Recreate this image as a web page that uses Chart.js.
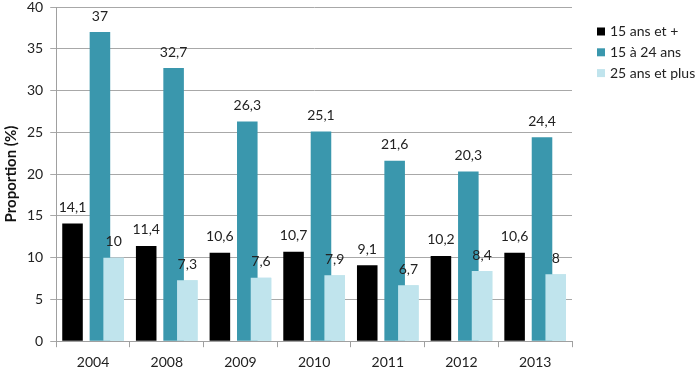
<!DOCTYPE html>
<html>
<head>
<meta charset="utf-8">
<script src="https://cdn.jsdelivr.net/npm/chart.js@4"></script>
<style>
  html, body { margin: 0; padding: 0; background: #fff; }
  #wrap { width: 700px; height: 370px; }
</style>
</head>
<body>
<div id="wrap"><canvas id="chart" width="700" height="370"></canvas></div>
<script>
const years = ['2004', '2008', '2009', '2010', '2011', '2012', '2013'];
const all15 = [14.1, 11.4, 10.6, 10.7, 9.1, 10.2, 10.6];
const young = [37, 32.7, 26.3, 25.1, 21.6, 20.3, 24.4];
const older = [10, 7.3, 7.6, 7.9, 6.7, 8.4, 8];
const yTicks = [0, 5, 10, 15, 20, 25, 30, 35, 40];

const FONT = 'Lato, "Open Sans", sans-serif';
const colors = ['#000000', '#3a97ad', '#c0e4ed'];

// labels above each bar, comma decimal like the original;
// also redraws the light bars so they sit over the teal ones
const valueLabels = {
  id: 'valueLabels',
  afterDatasetsDraw(chart) {
    const ctx = chart.ctx;
    const lightMeta = chart.getDatasetMeta(3);
    ctx.save();
    ctx.beginPath();
    ctx.rect(chart.chartArea.left, chart.chartArea.top, chart.chartArea.width, chart.chartArea.height);
    ctx.clip();
    lightMeta.controller.draw();
    ctx.restore();

    ctx.save();
    ctx.font = '14px ' + FONT;
    ctx.fillStyle = '#222';
    ctx.textAlign = 'center';
    ctx.textBaseline = 'bottom';
    chart.data.datasets.forEach((ds, i) => {
      if (!ds.label) return;
      chart.getDatasetMeta(i).data.forEach((bar, j) => {
        const txt = String(ds.data[j]).replace('.', ',');
        ctx.fillText(txt, bar.x, bar.y - 9);
      });
    });
    ctx.restore();
  }
};

// legend drawn on the right, like the spreadsheet one
const sideLegend = {
  id: 'sideLegend',
  afterDraw(chart) {
    const ctx = chart.ctx;
    const items = chart.data.datasets.filter(d => d.label);
    ctx.save();
    ctx.font = '14px ' + FONT;
    ctx.textBaseline = 'middle';
    ctx.textAlign = 'left';
    items.forEach((d, i) => {
      const y = 31.5 + i * 20.8;
      ctx.fillStyle = d.backgroundColor;
      ctx.fillRect(597, y - 4, 8, 8);
      ctx.fillStyle = '#222';
      ctx.fillText(d.label, 610, y);
    });
    ctx.restore();
  }
};

new Chart(document.getElementById('chart'), {
  type: 'bar',
  data: {
    labels: years,
    datasets: [
      { label: '15 ans et +', data: all15, backgroundColor: colors[0] },
      { label: '', data: [], backgroundColor: 'rgba(0,0,0,0)' },
      { label: '15 à 24 ans', data: young, backgroundColor: colors[1] },
      { label: '25 ans et plus', data: older, backgroundColor: colors[2] }
    ]
  },
  options: {
    responsive: false,
    animation: false,
    layout: { padding: { top: 7, right: 128, left: 0, bottom: -8 } },
    datasets: { bar: { categoryPercentage: 0.744, barPercentage: 1.5 } },
    plugins: {
      legend: { display: false },
      tooltip: { enabled: false }
    },
    scales: {
      x: {
        grid: { display: true, drawOnChartArea: false, offset: true, color: '#a0a0a0', tickLength: 6 },
        border: { color: '#a0a0a0' },
        ticks: { color: '#222', font: { family: FONT, size: 14 }, padding: 7 }
      },
      y: {
        min: 0, max: 40,
        afterBuildTicks(axis) { axis.ticks = yTicks.map(v => ({ value: v })); },
        afterFit(axis) { axis.paddingTop = 0; },
        grid: { color: '#a8a8a8', tickLength: 6 },
        border: { color: '#a0a0a0' },
        ticks: { color: '#222', font: { family: FONT, size: 14 }, padding: 7 },
        title: {
          display: true, text: 'Proportion (%)', color: '#111',
          font: { family: FONT, size: 15, weight: 'bold' }, padding: { top: 2, bottom: 0 }
        }
      }
    }
  },
  plugins: [valueLabels, sideLegend]
});
</script>
</body>
</html>
